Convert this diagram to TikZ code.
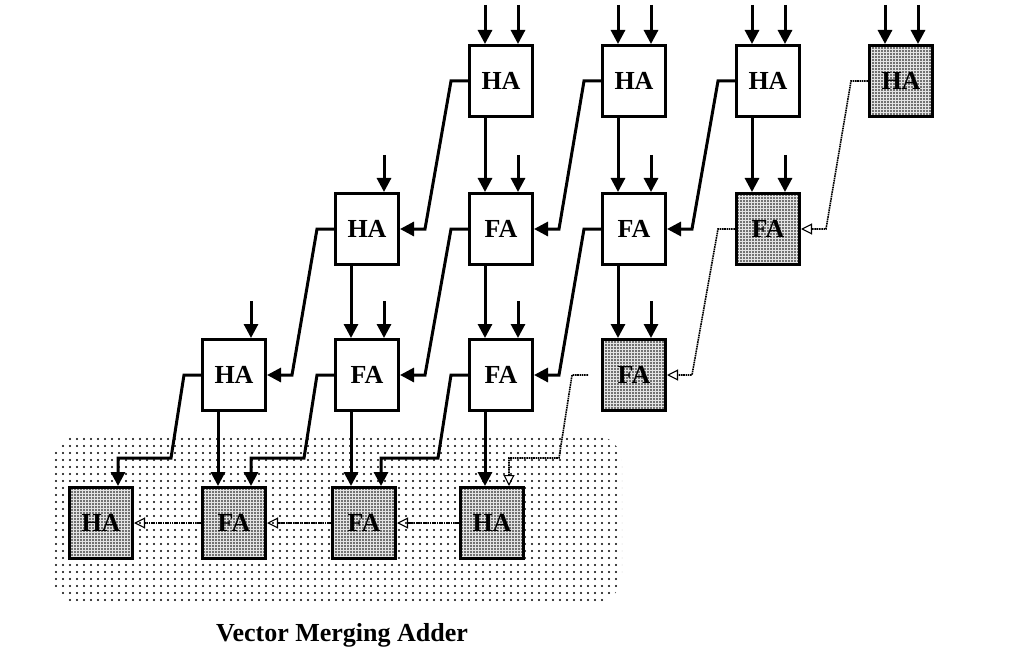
\documentclass[tikz,border=0pt]{standalone}
\usepackage{fontspec}
\setmainfont{Liberation Serif}
\usetikzlibrary{arrows.meta,patterns.meta,calc}

\begin{document}
\begin{tikzpicture}[x=1pt,y=-1pt,
  cellbase/.style={draw, line width=3pt, minimum width=63pt, minimum height=71pt,
    inner sep=0pt, font=\bfseries\fontsize{26}{26}\selectfont},
  cell/.style={cellbase, fill=white},
  shaded/.style={cellbase, preaction={fill=gray!22},
    pattern={Dots[distance=3pt,radius=0.8pt]}},
  wire/.style={line width=3pt, -{Triangle[width=14pt,length=14pt]}},
  dwire/.style={line width=1.6pt, dash pattern=on 1.6pt off 0.7pt,
    -{Triangle[open,width=11pt,length=11pt,line width=1.1pt]}},
  region/.style={pattern={Dots[distance=7pt,radius=1.2pt]}, rounded corners=28pt},
]
\useasboundingbox (0,0) rectangle (1035,663);

% merging-adder region behind the last row
\path[region] (52,435) rectangle (622,603);

% row 0
\node[cell]   (a0) at (501,81) {HA};
\node[cell]   (b0) at (634,81) {HA};
\node[cell]   (c0) at (768,81) {HA};
\node[shaded] (d0) at (901,81) {HA};
% row 1
\node[cell]   (a1) at (367,229) {HA};
\node[cell]   (b1) at (501,229) {FA};
\node[cell]   (c1) at (634,229) {FA};
\node[shaded] (d1) at (768,229) {FA};
% row 2
\node[cell]   (a2) at (234,375) {HA};
\node[cell]   (b2) at (367,375) {FA};
\node[cell]   (c2) at (501,375) {FA};
\node[shaded] (d2) at (634,375) {FA};
% row 3: vector merging adder
\node[shaded] (a3) at (101,523) {HA};
\node[shaded] (b3) at (234,523) {FA};
\node[shaded] (c3) at (364,523) {FA};
\node[shaded] (d3) at (492,523) {HA};

\node[font=\bfseries\fontsize{26}{26}\selectfont] (title) at (342,635) {Vector Merging Adder};

% primary inputs of row 0
\foreach \n in {a0,b0,c0,d0} {
  \draw[wire] ([shift={(-16,-39)}]\n.north) -- ([xshift=-16pt]\n.north);
  \draw[wire] ([shift={(17,-39)}]\n.north) -- ([xshift=17pt]\n.north);
}
% partial-product inputs of rows 1 and 2
\foreach \n in {a1,b1,c1,d1,a2,b2,c2,d2}
  \draw[wire] ([shift={(17,-37)}]\n.north) -- ([xshift=17pt]\n.north);

% sum outputs going straight down
\foreach \s/\d in {a0/b1,b0/c1,c0/d1,a1/b2,b1/c2,c1/d2,a2/b3,b2/c3,c2/d3}
  \draw[wire] ([xshift=-16pt]\s.south) -- ([xshift=-16pt]\s.south |- \d.north);

% carry outputs into the next row
\foreach \s/\d in {a0/a1,b0/b1,c0/c1,a1/a2,b1/b2,c1/c2}
  \draw[wire] (\s.west) -- ++(-17,0) -- ($(\d.east)+(25,0)$) -- (\d.east);
\foreach \s/\d in {d0/d1,d1/d2}
  \draw[dwire] (\s.west) -- ++(-17,0) -- ($(\d.east)+(25,0)$) -- (\d.east);

% carries into the merging adder
\foreach \s/\d in {a2/a3,b2/b3,c2/c3}
  \draw[wire] (\s.west) -- ++(-17,0) -- ++(-13,83) -| ([xshift=17pt]\d.north);
\draw[dwire, shorten <=13pt] (d2.west) -- ++(-29,0) -- ++(-13,83) -| ([xshift=17pt]d3.north);

% ripple carry of the merging adder
\draw[dwire] (d3.west) -- (c3.east);
\draw[dwire] (c3.west) -- (b3.east);
\draw[dwire] (b3.west) -- (a3.east);
\end{tikzpicture}
\end{document}
